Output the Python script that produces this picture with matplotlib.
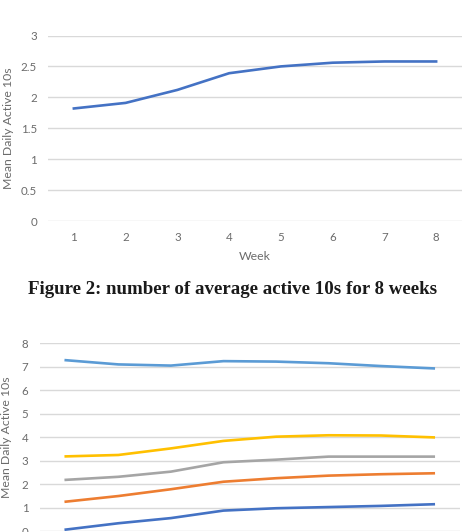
import matplotlib.pyplot as plt

weeks = [1, 2, 3, 4, 5, 6, 7, 8]

# figure 2: average over all users
avg_active = [1.82, 1.91, 2.12, 2.39, 2.50, 2.56, 2.58, 2.58]

# second chart: one line per group
group_a = [7.28, 7.10, 7.05, 7.24, 7.22, 7.15, 7.03, 6.93]
group_b = [3.18, 3.24, 3.52, 3.84, 4.02, 4.08, 4.07, 3.99]
group_c = [2.18, 2.31, 2.53, 2.93, 3.04, 3.17, 3.17, 3.17]
group_d = [1.25, 1.49, 1.78, 2.10, 2.25, 2.36, 2.42, 2.46]
group_e = [0.06, 0.33, 0.55, 0.87, 0.97, 1.02, 1.07, 1.14]

top_yticks = [0, 0.5, 1, 1.5, 2, 2.5, 3]
top_ylabels = ['0', '0.5', '1', '1.5', '2', '2.5', '3']
bot_yticks = [0, 1, 2, 3, 4, 5, 6, 7, 8]

W, H = 466, 532
tick_col = '#6b6b6b'
grid_col = '#d9d9d9'
font = 'Lato'

fig = plt.figure(figsize=(W / 100, H / 100), dpi=100)


def style(ax):
    for s in ax.spines.values():
        s.set_visible(False)
    ax.grid(axis='y', color=grid_col, linewidth=1.0)
    ax.set_axisbelow(True)
    ax.tick_params(length=0, labelsize=8.3, colors=tick_col, pad=8)
    ax.set_xlim(0.5, 8.5)
    ax.set_xticks(weeks)
    for t in ax.get_xticklabels() + ax.get_yticklabels():
        t.set_fontfamily(font)


# top chart
ax1 = fig.add_axes([48 / W, (H - 221) / H, (462 - 48) / W, (221 - 35.5) / H])
style(ax1)
ax1.plot(weeks, avg_active, color='#4472c4', linewidth=1.9)
ax1.set_ylim(0, 3)
ax1.set_yticks(top_yticks)
ax1.set_yticklabels(top_ylabels, fontfamily=font)
ax1.set_xlabel('Week', fontsize=8.8, color=tick_col, fontfamily=font, labelpad=6)
ax1.set_ylabel('Mean Daily Active 10s', fontsize=8.8, color=tick_col,
               fontfamily=font, labelpad=5)

fig.text(0.5, (H - 290) / H, 'Figure 2: number of average active 10s for 8 weeks',
         ha='center', va='center', fontsize=13.6, fontweight='bold',
         fontfamily='Liberation Serif', color='#1a1a1a')

# bottom chart (cut off at the bottom of the page)
ax2 = fig.add_axes([39.5 / W, (H - 531) / H, (460 - 39.5) / W, (531 - 343.3) / H])
style(ax2)
ax2.plot(weeks, group_e, color='#4472c4', linewidth=1.9)
ax2.plot(weeks, group_d, color='#ed7d31', linewidth=1.9)
ax2.plot(weeks, group_c, color='#a5a5a5', linewidth=1.9)
ax2.plot(weeks, group_b, color='#ffc000', linewidth=1.9)
ax2.plot(weeks, group_a, color='#5b9bd5', linewidth=1.9)
ax2.set_ylim(0, 8)
ax2.set_yticks(bot_yticks)
ax2.tick_params(axis='x', labelbottom=False)
ax2.set_ylabel('Mean Daily Active 10s', fontsize=8.8, color=tick_col,
               fontfamily=font, labelpad=7)

fig.savefig('out.png', dpi=100)
